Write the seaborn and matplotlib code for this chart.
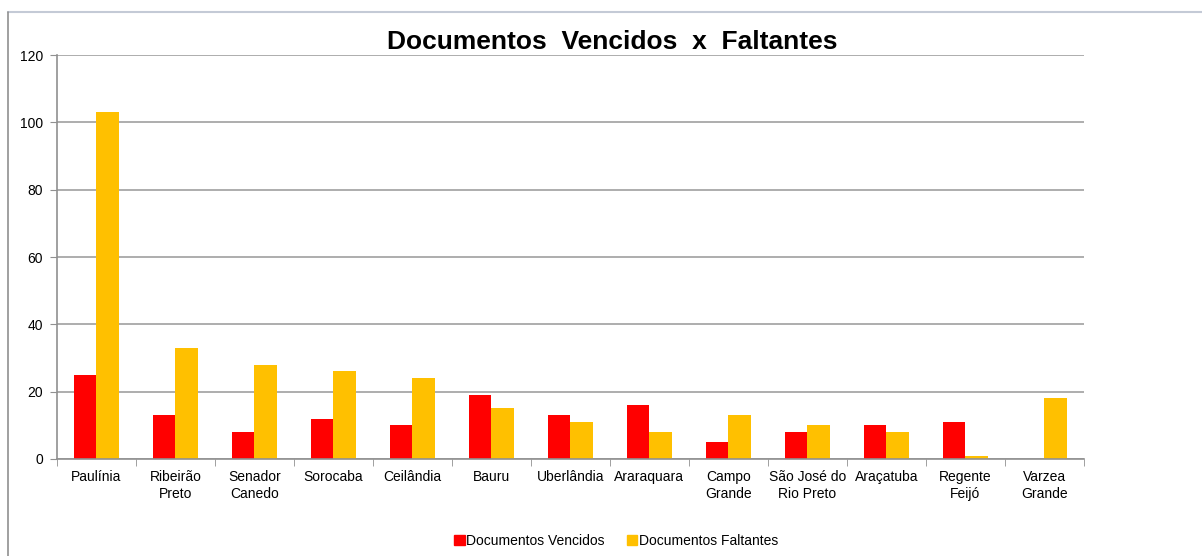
import matplotlib
matplotlib.use('Agg')
import matplotlib.pyplot as plt
import pandas as pd
import seaborn as sns
from matplotlib.lines import Line2D

cidades = ['Paulínia', 'Ribeirão\nPreto', 'Senador\nCanedo', 'Sorocaba', 'Ceilândia', 'Bauru',
           'Uberlândia', 'Araraquara', 'Campo\nGrande', 'São José do\nRio Preto', 'Araçatuba',
           'Regente\nFeijó', 'Varzea\nGrande']
vencidos = [25, 13, 8, 12, 10, 19, 13, 16, 5, 8, 10, 11, 0]
faltantes = [103, 33, 28, 26, 24, 15, 11, 8, 13, 10, 8, 1, 18]
series = ['Documentos Vencidos', 'Documentos Faltantes']
cores = ['#ff0000', '#ffc000']
y_ticks = [0, 20, 40, 60, 80, 100, 120]


def main():
    df = pd.DataFrame({
        'cidade': cidades * 2,
        'valor': vencidos + faltantes,
        'serie': [series[0]] * len(cidades) + [series[1]] * len(cidades),
    })

    sns.set_style('white')
    plt.rcParams['font.family'] = ['Liberation Sans', 'DejaVu Sans']
    plt.rcParams['text.color'] = 'black'
    plt.rcParams['xtick.labelcolor'] = 'black'
    plt.rcParams['ytick.labelcolor'] = 'black'

    fig = plt.figure(figsize=(12.02, 5.56), dpi=100)
    ax = fig.add_axes([0.0474, 0.1745, 0.8544, 0.7265])
    sns.barplot(data=df, x='cidade', y='valor', hue='serie', palette=cores,
                width=0.58, ax=ax, legend=True, saturation=1, linewidth=0)

    ax.set_ylim(0, 120)
    ax.set_xlim(-0.5, len(cidades) - 0.5)
    ax.set_yticks(y_ticks)
    ax.yaxis.grid(True, color='#a0a0a0', linewidth=1.2)
    ax.set_axisbelow(True)
    ax.set_xlabel('')
    ax.set_ylabel('')
    for s in ['top', 'right']:
        ax.spines[s].set_visible(False)
    for s in ['left', 'bottom']:
        ax.spines[s].set_color('#909090')
        ax.spines[s].set_linewidth(1.2)

    ax.tick_params(axis='y', labelsize=10, length=5, color='#909090', direction='out', left=True, pad=5)
    ax.tick_params(axis='x', which='major', labelsize=10, length=0, pad=8)
    for lbl in ax.get_xticklabels():
        lbl.set_linespacing(1.25)
    ax.set_xticks([i - 0.5 for i in range(len(cidades) + 1)], minor=True)
    ax.tick_params(axis='x', which='minor', length=5, color='#909090', direction='out', bottom=True)

    ax.legend_.remove()
    handles = [plt.Rectangle((0, 0), 1, 1, color=c) for c in cores]
    fig.legend(handles, series, loc='center', bbox_to_anchor=(616 / 1202, 1 - 541 / 556),
               ncol=2, frameon=False, fontsize=10, handlelength=0.75, handleheight=0.75,
               handletextpad=0.1, columnspacing=1.6)

    fig.text(612 / 1202, 1 - 42 / 556, 'Documentos  Vencidos  x  Faltantes',
             ha='center', va='center', fontsize=19, fontweight='bold', color='black')

    # moldura da planilha
    fig.add_artist(Line2D([8 / 1202, 1], [1 - 12 / 556] * 2, color='#c4cad6', linewidth=1.5))
    fig.add_artist(Line2D([8 / 1202] * 2, [0, 1 - 12 / 556], color='#909090', linewidth=1.2))

    fig.savefig('out.png', dpi=100)


if __name__ == '__main__':
    main()
